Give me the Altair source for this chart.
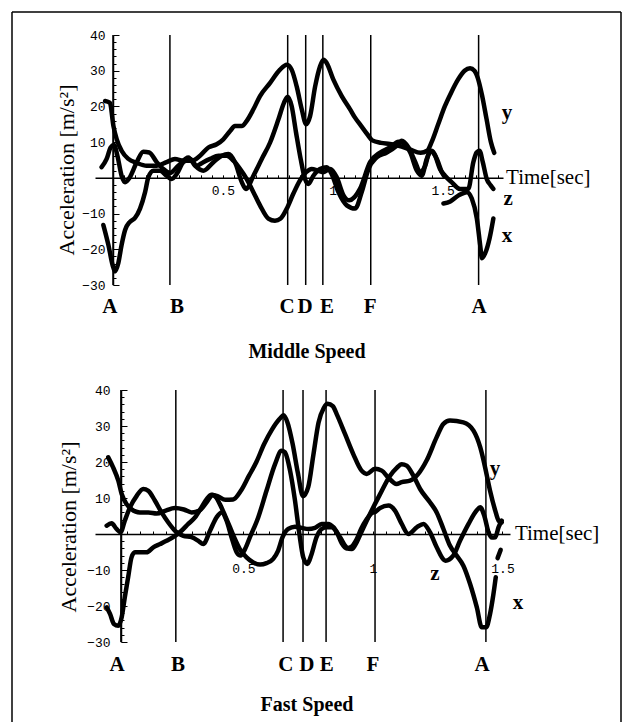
import altair as alt
import pandas as pd

# ---------------- data ----------------
# Middle speed
MID_Y_T = [-0.036, -0.014, 0.002, 0.017, 0.039, 0.070, 0.108, 0.153, 0.199, 0.244, 0.282, 0.320, 0.358, 0.396,
           0.434, 0.472, 0.502, 0.533, 0.555, 0.586, 0.608, 0.639, 0.669, 0.715, 0.760, 0.791, 0.813, 0.836,
           0.859, 0.879, 0.897, 0.920, 0.942, 0.958, 0.973, 1.003, 1.041, 1.079, 1.10, 1.13, 1.16, 1.18, 1.22,
           1.26, 1.30, 1.35, 1.40, 1.43, 1.45, 1.48, 1.51, 1.54, 1.57, 1.60, 1.625, 1.645, 1.66, 1.68, 1.70,
           1.72, 1.735]
MID_Y_V = [21.5, 21.0, 14.5, 10.8, 7.6, 5.3, 4.2, 3.4, 3.4, 4.4, 5.3, 4.8, 4.8, 6.2, 8.5, 9.4, 10.8, 13.1, 14.5,
           14.5, 15.9, 19.2, 22.9, 26.6, 30.3, 31.7, 30.3, 25.6, 19.2, 15.0, 17.3, 25.6, 31.2, 33.1, 32.1, 27.5,
           22.9, 19.2, 17, 14.5, 12, 10.5, 9.8, 9.5, 9, 8, 7, 7.6, 10, 15, 20, 24, 27.5, 30, 30.7, 30, 28, 23,
           16.5, 10, 7]
MID_Z_T = [-0.052, -0.029, -0.011, 0.005, 0.020, 0.039, 0.055, 0.077, 0.108, 0.138, 0.165, 0.199, 0.229, 0.259,
           0.297, 0.343, 0.373, 0.411, 0.457, 0.495, 0.525, 0.555, 0.586, 0.605, 0.639, 0.677, 0.715, 0.753,
           0.778, 0.795, 0.813, 0.833, 0.854, 0.874, 0.889, 0.912, 0.942, 0.973, 0.995, 1.026, 1.064, 1.102,
           1.132, 1.163, 1.2, 1.246, 1.291, 1.314, 1.345, 1.376, 1.398, 1.421, 1.443, 1.466, 1.488, 1.511,
           1.541, 1.579, 1.617, 1.64, 1.655, 1.668, 1.683, 1.701, 1.719, 1.731]
MID_Z_V = [3.0, 5.3, 8.5, 9.2, 6.2, 0.6, -1.2, 0.2, 4.4, 7.3, 7.1, 4.4, 2.5, 1.4, 3.4, 5.7, 3.4, 2.0, 4.4, 6.2,
           6.7, 4.4, -1.2, -3.1, 0.6, 5.3, 9.9, 16.4, 21.0, 22.7, 20.1, 12.7, 5.3, -0.3, -1.7, 0.6, 2.5, 3.0,
           1.1, -4.0, -7.7, -8.6, -4.0, 2.5, 5.7, 7.1, 9.0, 10.4, 8.5, 4.4, 1.6, 3.4, 7.6, 6.2, 2.5, 0.6, -1.2,
           -3.1, -3.1, 4.4, 7.1, 7.6, 4.4, -0.3, -2.1, -3.1]
MID_X1_T = [-0.044, -0.021, -0.002, 0.009, 0.024, 0.039, 0.055, 0.077, 0.1, 0.123, 0.146, 0.161, 0.184, 0.214,
            0.244, 0.267, 0.29, 0.320, 0.351, 0.381, 0.411, 0.442, 0.48, 0.517, 0.548, 0.578, 0.608, 0.639,
            0.669, 0.707, 0.737, 0.763, 0.791, 0.821, 0.851, 0.879, 0.904, 0.935, 0.958, 0.988, 1.018, 1.049,
            1.075, 1.124, 1.170, 1.216, 1.261, 1.299, 1.322, 1.353, 1.383, 1.405, 1.428, 1.451, 1.474, 1.497,
            1.507]
MID_X1_V = [-13.2, -18.8, -24.4, -26.2, -23.9, -18.8, -14.6, -12.3, -11.2, -8.6, -4.0, 0.2, 2.0, 2.0, 0.6, -0.3,
            1.1, 4.4, 5.3, 3.4, 4.4, 5.3, 6.2, 6.2, 4.8, 2.5, -0.3, -4.0, -7.7, -11.4, -12.0, -11.4, -8.6, -4.4,
            -0.7, 1.6, 2.5, 2.0, 1.6, 2.5, 0.2, -4.9, -6.3, -3.1, 4.4, 7.1, 8.5, 10.1, 9.7, 7.1, 2.0, 0.6, 5.3,
            7.6, 5.3, 1.6, 0.5]
MID_X2_T = [1.504, 1.535, 1.573, 1.611, 1.633, 1.656, 1.671, 1.679, 1.694, 1.714, 1.731]
MID_X2_V = [-7.2, -6.6, -4.9, -4.0, -5.8, -11.4, -18.8, -22.5, -21.1, -16.9, -11.4]

# Fast speed
FAST_Y_T = [-0.022, -0.003, 0.017, 0.03, 0.049, 0.068, 0.10, 0.133, 0.165, 0.2, 0.235, 0.27, 0.30, 0.33, 0.36,
            0.38, 0.40, 0.43, 0.46, 0.49, 0.52, 0.55, 0.58, 0.61, 0.64, 0.655, 0.67, 0.69, 0.71, 0.73, 0.75,
            0.77, 0.79, 0.81, 0.825, 0.845, 0.86, 0.892, 0.924, 0.956, 0.976, 1.008, 1.034, 1.059, 1.091,
            1.111, 1.143, 1.175, 1.207, 1.246, 1.272, 1.297, 1.349, 1.388, 1.414, 1.433, 1.452, 1.472, 1.485,
            1.497]
FAST_Y_V = [21.3, 18.5, 14.8, 11.1, 8.3, 6.9, 6.0, 6.0, 5.7, 6.5, 7.2, 6.8, 6.0, 6.5, 9, 10.8, 10.5, 9.5, 9.6,
            12, 16, 20, 25, 29, 32, 33, 31, 25, 17, 10.5, 13, 22, 31, 35, 36.2, 35.5, 33.3, 27.8, 22.2, 17.6,
            16.7, 18.1, 17.6, 15.7, 13.9, 14.4, 14.8, 16.7, 20.4, 26.9, 30.6, 31.5, 31.0, 28.7, 24.1, 18.5,
            12.0, 6.5, 3.7, 3.2]
FAST_Z_T = [-0.028, -0.009, 0.01, 0.026, 0.042, 0.062, 0.088, 0.113, 0.133, 0.158, 0.184, 0.21, 0.236, 0.268,
            0.3, 0.326, 0.345, 0.371, 0.396, 0.416, 0.435, 0.454, 0.474, 0.489, 0.506, 0.525, 0.557, 0.589,
            0.622, 0.647, 0.66, 0.68, 0.699, 0.716, 0.731, 0.746, 0.763, 0.782, 0.802, 0.821, 0.84, 0.86,
            0.879, 0.898, 0.918, 0.937, 0.955, 0.975, 0.995, 1.01, 1.027, 1.06, 1.085, 1.111, 1.137, 1.17,
            1.195, 1.22, 1.246, 1.28, 1.31, 1.336, 1.369, 1.4, 1.414, 1.43, 1.446, 1.459, 1.472, 1.485, 1.497]
FAST_Z_V = [2.3, 3.0, 1.4, 0.5, 3.7, 7.4, 10.6, 12.5, 12.0, 9.3, 6.0, 3.2, 0.9, -0.5, -0.9, -1.9, -2.8, 0.9, 4.6,
            6.0, 3.7, -0.9, -5.1, -6.0, -4.2, -0.9, 4.6, 12.0, 19.4, 23.1, 22.7, 17.6, 9.3, 0, -6.5, -8.3, -5.6,
            -0.9, 1.4, 1.9, 1.9, 0.5, -2.5, -4.0, -3.5, -1.5, 1.5, 4, 5.8, 6.2, 7.2, 7.9, 6.5, 2.8, 0, 1.9, 2.8,
            0.5, -3.7, -7.4, -6, -1.9, 2.8, 6.5, 7.4, 5, 0.5, -1, -0.9, 1.9, 3.7]
FAST_X1_T = [-0.028, -0.015, 0.0, 0.017, 0.03, 0.042, 0.055, 0.068, 0.081, 0.1, 0.126, 0.152, 0.178, 0.203,
             0.236, 0.261, 0.287, 0.313, 0.338, 0.358, 0.377, 0.396, 0.409, 0.429, 0.448, 0.467, 0.486, 0.512,
             0.538, 0.564, 0.589, 0.615, 0.634, 0.651, 0.673, 0.699, 0.725, 0.75, 0.776, 0.802, 0.828, 0.847,
             0.873, 0.898, 0.918, 0.937, 0.955, 0.988, 1.027, 1.066, 1.091, 1.111, 1.13, 1.156, 1.182, 1.22,
             1.246, 1.272, 1.297, 1.323, 1.349, 1.375, 1.401, 1.42, 1.437, 1.452, 1.465, 1.474]
FAST_X1_V = [-20.4, -22.2, -25.0, -25.5, -23.1, -17.6, -12.0, -6.5, -5.1, -5.1, -5.1, -3.7, -2.8, -1.9, -0.5,
             0.9, 2.8, 4.6, 7.4, 9.7, 10.9, 10.0, 8.3, 5.1, 1.9, -1.4, -4.2, -6.5, -7.9, -8.5, -8.1, -6.9, -4.6,
             -0.9, 1.4, 2.0, 1.7, 1.4, 1.7, 2.8, 2.8, 1.9, -0.9, -3.7, -4.2, -2.3, 0.5, 5.5, 11, 16.2, 18.3,
             19.4, 19.0, 16.2, 12.5, 8.8, 6.0, 1.4, -3.2, -6.0, -8.8, -13.9, -20.4, -25.9, -25.9, -22.2, -16.7,
             -12.0]
FAST_X2_T = [1.481, 1.493]
FAST_X2_V = [-6.7, -4.4]

# event lines (time of the vertical line, time of its letter)
EVENT_NAMES = ["A", "B", "C", "D", "E", "F", "A"]
MID_EVENT_T = [0.0, 0.259, 0.795, 0.877, 0.955, 1.173, 1.664]
MID_EVENT_LABEL_T = [-0.014, 0.291, 0.792, 0.874, 0.974, 1.17, 1.666]
FAST_EVENT_T = [0.027, 0.239, 0.653, 0.730, 0.819, 1.008, 1.436]
FAST_EVENT_LABEL_T = [0.012, 0.247, 0.664, 0.745, 0.822, 1.0, 1.421]

# series name labels (time, value)
SERIES_NAMES = ["y", "z", "x"]
MID_NAME_T = [1.793, 1.798, 1.793]
MID_NAME_V = [18.3, -5.8, -16.4]
FAST_NAME_T = [1.471, 1.239, 1.56]
FAST_NAME_V = [18.1, -11.1, -19.2]

Y_TICKS = list(range(-30, 41, 2))
SERIF = "Liberation Serif"
MONO = "Liberation Mono"


def curves_df(parts):
    rows = []
    for name, piece, ts, vs in parts:
        for t, v in zip(ts, vs):
            rows.append({"t": t, "v": v, "series": name, "piece": name + str(piece)})
    return pd.DataFrame(rows)


def one():
    return pd.DataFrame({"k": [0]})


def panel(curves, ev_t, ev_lab_t, name_t, name_v, time_t, x_dom, w, h, yaxis_px,
          xlab_pad, ylab_pad, lab_dy, title, title_y, ytitle_x, ytitle_y, frame):
    xs = alt.Scale(domain=x_dom, nice=False, zero=False)
    ys = alt.Scale(domain=[-30, 40], nice=False, zero=False)
    n = int(x_dom[1] / 0.05 + 1e-9)
    x_ticks = [round(0.05 * i, 2) for i in range(1, n + 1)]

    xaxis = alt.Axis(orient="top", offset=-h * 40 / 70, values=x_ticks, format="~g",
                     labelExpr="abs(datum.value*2 - round(datum.value*2)) < 0.001 ? datum.label : ''",
                     labelFont=MONO, labelFontSize=13, labelColor="black", labelBaseline="middle",
                     labelPadding=xlab_pad, labelFlush=False, labelOverlap=False,
                     tickSize=3, tickColor="black", tickWidth=1,
                     domainColor="black", domainWidth=1.5, grid=False, title=None)
    yaxis = alt.Axis(orient="right", offset=yaxis_px - w, values=Y_TICKS,
                     labelExpr="datum.value % 10 === 0 && datum.value !== 0 ? datum.label : ''",
                     labelFont=MONO, labelFontSize=13, labelColor="black", labelAlign="right",
                     labelBaseline="middle", labelPadding=ylab_pad, labelFlush=False, labelOverlap=False,
                     tickSize={"condition": {"test": "datum.value % 10 === 0", "value": 6}, "value": 3},
                     tickColor="black", tickWidth=1,
                     domainColor="black", domainWidth=1.5, grid=False, title=None)

    def X(field):
        return alt.X(field, scale=xs, axis=xaxis)

    def Y(field):
        return alt.Y(field, scale=ys, axis=yaxis)

    lines = alt.Chart(curves).mark_line(color="black", strokeWidth=4.5, interpolate="monotone",
                                        strokeJoin="round", strokeCap="round").encode(
        x=X("t:Q"), y=Y("v:Q"), detail="piece:N")

    ev = pd.DataFrame({"t": ev_t, "top": [40] * len(ev_t), "bot": [-30] * len(ev_t)})
    rules = alt.Chart(ev).mark_rule(color="black", strokeWidth=1.5).encode(
        x=X("t:Q"), y=Y("top:Q"), y2="bot:Q")

    evl = pd.DataFrame({"t": ev_lab_t, "name": EVENT_NAMES})
    letters = alt.Chart(evl).mark_text(font=SERIF, fontSize=21, fontWeight="bold", color="black",
                                       align="center", baseline="middle").encode(
        x=X("t:Q"), y=alt.value(h + lab_dy), text="name:N")

    nm = pd.DataFrame({"t": name_t, "v": name_v, "name": SERIES_NAMES})
    names = alt.Chart(nm).mark_text(font=SERIF, fontSize=21, fontWeight="bold", color="black",
                                    align="center", baseline="middle").encode(
        x=X("t:Q"), y=Y("v:Q"), text="name:N")

    tl = pd.DataFrame({"t": [time_t], "v": [0], "txt": ["Time[sec]"]})
    timelab = alt.Chart(tl).mark_text(font=SERIF, fontSize=21, color="black",
                                      align="left", baseline="middle").encode(
        x=X("t:Q"), y=Y("v:Q"), text="txt:N")

    ttl = alt.Chart(one()).mark_text(text=title, font=SERIF, fontSize=20, fontWeight="bold",
                                     color="black", align="center", baseline="middle").encode(
        x=alt.value(212), y=alt.value(title_y))
    ytl = alt.Chart(one()).mark_text(text="Acceleration [m/s²]", font=SERIF, fontSize=22, angle=270,
                                     color="black", align="center", baseline="middle").encode(
        x=alt.value(ytitle_x), y=alt.value(ytitle_y))

    layers = [lines, rules, letters, names, timelab, ttl, ytl]
    if frame:
        fl, fr, ft, fb = -83, 526, -23, 687
        layers += [
            alt.Chart(one()).mark_rule(color="black", strokeWidth=1.5).encode(
                x=alt.value(fl), x2=alt.value(fr), y=alt.value(ft)),
            alt.Chart(one()).mark_rule(color="black", strokeWidth=1.5).encode(
                x=alt.value(fl), y=alt.value(ft), y2=alt.value(fb)),
            alt.Chart(one()).mark_rule(color="black", strokeWidth=1.5).encode(
                x=alt.value(fr), y=alt.value(ft), y2=alt.value(fb)),
        ]
    return alt.layer(*layers).properties(width=w, height=h)


mid = curves_df([("y", 1, MID_Y_T, MID_Y_V), ("z", 1, MID_Z_T, MID_Z_V),
                 ("x", 1, MID_X1_T, MID_X1_V), ("x", 2, MID_X2_T, MID_X2_V)])
fast = curves_df([("y", 1, FAST_Y_T, FAST_Y_V), ("z", 1, FAST_Z_T, FAST_Z_V),
                  ("x", 1, FAST_X1_T, FAST_X1_V), ("x", 2, FAST_X2_T, FAST_X2_V)])

top = panel(mid, MID_EVENT_T, MID_EVENT_LABEL_T, MID_NAME_T, MID_NAME_V, 1.789,
            [-0.082, 1.775], 408, 250, 18, -16, -14, 22, "Middle Speed", 317, -28, 135, True)
bottom = panel(fast, FAST_EVENT_T, FAST_EVENT_LABEL_T, FAST_NAME_T, FAST_NAME_V, 1.548,
               [-0.073, 1.529], 415, 252, 26, -37, -17, 23, "Fast Speed", 315, -26, 137, False)

chart = alt.vconcat(top, bottom, spacing=105, bounds="flush").properties(
    padding={"left": 3, "top": 3, "right": 0, "bottom": 0}, background="white"
).configure_view(strokeWidth=0)

chart.save("out.html", embed_options={"renderer": "svg", "actions": False})
